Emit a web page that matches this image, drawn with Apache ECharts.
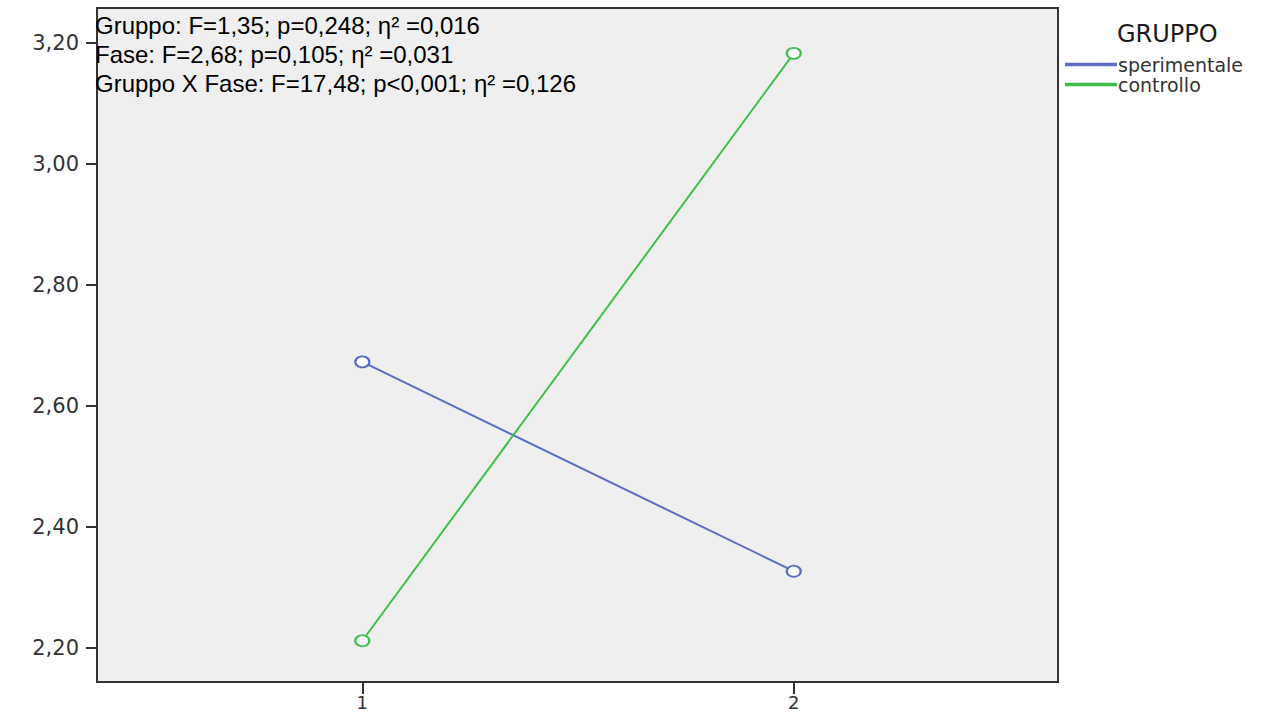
<!DOCTYPE html>
<html>
<head>
<meta charset="utf-8">
<script src="https://cdn.jsdelivr.net/npm/echarts@6/dist/echarts.min.js"></script>
<style>html,body{margin:0;padding:0;background:#fff;}#c{width:1276px;height:712px;}</style>
</head>
<body>
<div id="c"></div>
<script>
// ---- data ----
const phases = [1, 2];
const groupNames = ['sperimentale', 'controllo'];
const sperimentale = [2.673, 2.327];
const controllo = [2.212, 3.183];
const yTicks = [2.2, 2.4, 2.6, 2.8, 3.0, 3.2];
const xTicks = [1, 2];
const legendTitle = 'GRUPPO';
const statLines = [
  'Gruppo: F=1,35; p=0,248; η² =0,016',
  'Fase: F=2,68; p=0,105; η² =0,031',
  'Gruppo X Fase: F=17,48; p<0,001; η² =0,126'
];

const blue = '#5b6ec4';
const green = '#3fbf4c';
const toPairs = vals => phases.map((p, i) => [p, vals[i]]);

const chart = echarts.init(document.getElementById('c'), null, {renderer: 'svg'});
chart.setOption({
  animation: false,
  backgroundColor: '#ffffff',
  grid: {
    left: 97, right: 218, top: 8, bottom: 30,
    outerBoundsMode: 'none', containLabel: false,
    show: true, backgroundColor: '#efefef', borderColor: '#333', borderWidth: 2
  },
  title: {
    text: legendTitle, left: 1112, top: 17,
    textStyle: {fontFamily: 'DejaVu Sans', fontSize: 24, fontWeight: 'normal', color: '#1a1a1a'}
  },
  legend: {
    orient: 'vertical', left: 1060, top: 50,
    itemWidth: 50, itemHeight: 1.5, itemGap: 1, icon: 'rect',
    textStyle: {fontFamily: 'DejaVu Sans', fontSize: 19, color: '#333', lineHeight: 19, padding: [0,0,0,-3]},
    data: groupNames
  },
  xAxis: {
    type: 'value', min: 0.385, max: 2.6125,
    splitLine: {show: false},
    axisLine: {show: true, onZero: false, lineStyle: {color: '#333', width: 2}},
    axisTick: {show: true, customValues: xTicks, length: 12, lineStyle: {color: '#333', width: 2}},
    axisLabel: {customValues: xTicks, margin: 13, fontFamily: 'DejaVu Sans', fontSize: 18, lineHeight: 15, color: '#333',
      formatter: v => String(v)}
  },
  yAxis: {
    type: 'value', min: 2.1438, max: 3.258,
    splitLine: {show: false},
    axisLine: {show: true, onZero: false, lineStyle: {color: '#333', width: 2}},
    axisTick: {show: true, customValues: yTicks, length: 11, lineStyle: {color: '#333', width: 2}},
    axisLabel: {customValues: yTicks, margin: 18, fontFamily: 'DejaVu Sans', fontSize: 21, color: '#333',
      formatter: v => v.toFixed(2).replace('.', ',')}
  },
  series: [
    {name: groupNames[0], type: 'line', data: toPairs(sperimentale),
     symbol: 'emptyCircle', symbolSize: [14, 11], color: blue,
     lineStyle: {color: blue, width: 2}, itemStyle: {color: blue, borderColor: blue, borderWidth: 1.5}},
    {name: groupNames[1], type: 'line', data: toPairs(controllo),
     symbol: 'emptyCircle', symbolSize: [14, 11], color: green,
     lineStyle: {color: green, width: 2}, itemStyle: {color: green, borderColor: green, borderWidth: 1.5}}
  ],
  graphic: [{
    type: 'text', left: 95, top: 11, z: 100,
    style: {
      text: statLines.join('\n'),
      fontFamily: 'Liberation Sans', fontSize: 24, lineHeight: 29, fill: '#000'
    }
  }]
});
</script>
</body>
</html>
